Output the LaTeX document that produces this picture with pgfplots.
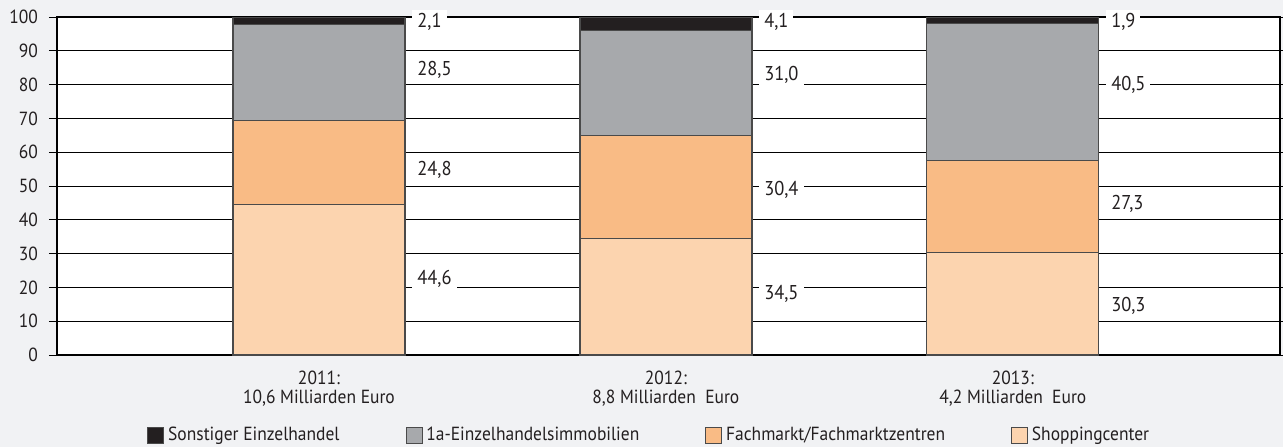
\documentclass[border=0pt]{standalone}
\usepackage{fontspec}
\setmainfont{PT Sans}[FakeStretch=0.92]
\usepackage{pgfplots}
\pgfplotsset{compat=1.18}
\definecolor{bgc}{HTML}{F1F2F4}
\definecolor{cblack}{HTML}{231F20}
\definecolor{cgray}{HTML}{A7A9AC}
\definecolor{corange}{HTML}{F9BB85}
\definecolor{cpeach}{HTML}{FCD4AF}
\definecolor{cedge}{HTML}{4A4A4A}
\definecolor{ctext}{HTML}{231F20}
\begin{document}
\begin{tikzpicture}
\fill[bgc] (-28.5pt,-46pt) rectangle (613pt,177.5pt);
\pgfplotsset{
  common/.style={
    width=611.5pt, height=169pt, scale only axis,
    xmin=-0.755, xmax=2.77, ymin=0, ymax=100,
  }
}
\begin{axis}[common,
  ybar stacked, bar width=86pt,
  axis background/.style={fill=white},
  axis line style={line width=1pt, black},
  ytick={0,10,...,100},
  ytick style={black, line width=0.5pt},
  tick align=outside, major tick length=4pt,
  ymajorgrids, major grid style={black, line width=0.5pt},
  xtick={0,1,2},
  xtick style={draw=none},
  xticklabels={{2011:\\10,6 Milliarden Euro},{2012:\\8,8 Milliarden\ \ Euro},{2013:\\4,2 Milliarden\ \ Euro}},
  xticklabel style={align=center, font=\fontsize{9.5}{9.5}\selectfont, text=ctext, yshift=-0.5pt},
  yticklabel style={font=\fontsize{9.5}{10}\selectfont, text=ctext, xshift=-2pt},
  /pgf/number format/assume math mode=true,
  legend columns=4, reverse legend,
  legend style={at={(0.0736,-0.2367)}, anchor=west, draw=none, fill=none, inner sep=0pt,
    font=\fontsize{9.5}{10}\selectfont, text=ctext,
    /tikz/every even column/.append style={column sep=31pt}},
  legend image code/.code={\draw[#1,draw=cedge,line width=0.4pt] (0pt,-4pt) rectangle (8pt,4pt);},
]
\addplot[fill=cpeach, draw=cedge, line width=0.6pt] coordinates {(0,44.6) (1,34.5) (2,30.3)};
\addplot[fill=corange, draw=cedge, line width=0.6pt] coordinates {(0,24.8) (1,30.4) (2,27.3)};
\addplot[fill=cgray, draw=cedge, line width=0.6pt] coordinates {(0,28.5) (1,31.0) (2,40.5)};
\addplot[fill=cblack, draw=cedge, line width=0.6pt] coordinates {(0,2.1) (1,4.1) (2,1.9)};
\legend{Shoppingcenter, Fachmarkt/Fachmarktzentren, 1a-Einzelhandelsimmobilien, Sonstiger Einzelhandel}
\end{axis}
\begin{axis}[common, hide axis, clip=false]
\addplot[draw=none, mark=none, nodes near coords, point meta=explicit symbolic,
  every node near coord/.append style={anchor=west, fill=white, inner xsep=2.5pt, inner ysep=1.5pt,
    font=\fontsize{10}{10}\selectfont, text=ctext}]
  table[meta=label] {
x y label
0.268 22.5 44,6
0.268 54.7 24,8
0.268 84.3 28,5
0.268 98.6 2,1
1.268 18.0 34,5
1.268 48.8 30,4
1.268 82.8 31,0
1.268 98.5 4,1
2.268 14.6 30,3
2.268 44.7 27,3
2.268 79.9 40,5
2.268 98.5 1,9
};
\end{axis}
\pgfresetboundingbox
\useasboundingbox (-28.5pt,-46pt) rectangle (613pt,177.5pt);
\end{tikzpicture}
\end{document}
